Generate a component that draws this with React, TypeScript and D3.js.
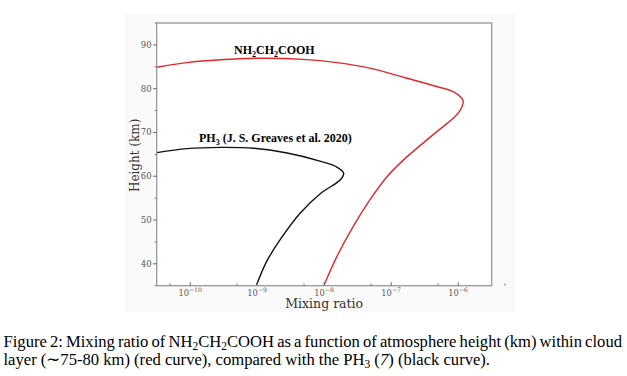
import React, { useLayoutEffect, useRef, useState } from "react";
import * as d3 from "d3";

// NH2CH2COOH (red curve): height (km) and mixing ratio
const glyHeight = [35.2, 41.7, 48.5, 54.6, 59.9, 63.74, 67.17, 70.59, 72.88, 74.7, 76.07, 77.05, 77.8, 79.3, 80.5, 82.6, 84.7, 85.96, 86.7, 86.95, 86.6, 85.96, 84.9];
const glyRatio = [1.0e-8, 1.55e-8, 2.7e-8, 4.8e-8, 8.65e-8, 1.53e-7, 2.78e-7, 5.17e-7, 7.94e-7, 1.03e-6, 1.15e-6, 1.19e-6, 1.13e-6, 8.45e-7, 4.78e-7, 1.52e-7, 4.8e-8, 1.55e-8, 4.9e-9, 1.1e-9, 2.8e-10, 8.9e-11, 3.2e-11];

// PH3 (black curve)
const ph3Height = [35.2, 40.5, 45.5, 51.6, 56.1, 59.2, 60.7, 62.1, 63.4, 65.3, 66.4, 66.6, 66.3, 65.4];
const ph3Ratio = [9.8e-10, 1.38e-9, 2.2e-9, 4.4e-9, 8.9e-9, 1.74e-8, 1.95e-8, 1.55e-8, 8.9e-9, 2.8e-9, 8.9e-10, 2.8e-10, 8.9e-11, 3.2e-11];

const xMajorExp = [-10, -9, -8, -7, -6];
const xMinor = [5e-11, 5e-10, 5e-9, 5e-8, 5e-7, 5e-6];
const yMajor = [40, 50, 60, 70, 80, 90];
const yMinor = [35, 45, 55, 65, 75, 85, 95];

const W = 627;
const H = 376;
const plot = { left: 156.7, right: 491.7, top: 23, bottom: 285.7 };
const captionRight = 622;
const captionLeft = 3.5;

export default function App() {
  const x = d3.scaleLog().domain([3.1623e-11, 3.1623e-6]).range([plot.left, plot.right]);
  const y = d3.scaleLinear().domain([35, 95]).range([plot.bottom, plot.top]);

  const line = d3
    .line<[number, number]>()
    .x((d) => x(d[0]))
    .y((d) => y(d[1]))
    .curve(d3.curveCatmullRom.alpha(0.5));

  const gly = glyRatio.map((r, i) => [r, glyHeight[i]] as [number, number]);
  const ph3 = ph3Ratio.map((r, i) => [r, ph3Height[i]] as [number, number]);

  const capRef = useRef<SVGTextElement>(null);
  const [wordSpacing, setWordSpacing] = useState<number | null>(null);
  useLayoutEffect(() => {
    const el = capRef.current;
    if (el && wordSpacing === null) {
      const len = el.getComputedTextLength();
      const extra = captionRight - captionLeft - len;
      setWordSpacing(extra / 14);
    }
  }, [wordSpacing]);

  const tickColor = "#666";
  const serif = "'DejaVu Serif', serif";
  const times = "'Liberation Serif', 'Times New Roman', serif";
  const capSize = 16.6;

  return (
    <svg width={W} height={H} style={{ position: "absolute", left: 0, top: 0, background: "#fff" }}>
      <rect x={125} y={14} width={390} height={298} fill="#fafafa" />
      <rect x={plot.left} y={plot.top} width={plot.right - plot.left} height={plot.bottom - plot.top} fill="#fff" />
      <defs>
        <clipPath id="clip">
          <rect x={plot.left} y={plot.top} width={plot.right - plot.left} height={plot.bottom - plot.top} />
        </clipPath>
      </defs>
      <g clipPath="url(#clip)">
        <path d={line(gly) || ""} fill="none" stroke="#e0282c" strokeWidth={1.4} />
        <path d={line(ph3) || ""} fill="none" stroke="#111" strokeWidth={1.4} />
      </g>
      <rect x={plot.left} y={plot.top} width={plot.right - plot.left} height={plot.bottom - plot.top} fill="none" stroke="#999" strokeWidth={1.3} />

      {/* x ticks (inward) */}
      {xMajorExp.map((e) => {
        const px = x(Math.pow(10, e));
        return (
          <g key={"xm" + e}>
            <line x1={px} x2={px} y1={plot.bottom} y2={plot.bottom - 3.5} stroke={tickColor} strokeWidth={1} />
            <text x={px} y={295.5} fontFamily={serif} fontSize={8.3} fill="#555" textAnchor="middle">
              10
              <tspan dy={-3.5} fontSize={6.2}>{"\u2212" + Math.abs(e)}</tspan>
            </text>
          </g>
        );
      })}
      {xMinor.map((v) => {
        const px = x(v);
        return <line key={"xn" + v} x1={px} x2={px} y1={plot.bottom} y2={plot.bottom - 2.2} stroke={tickColor} strokeWidth={0.9} />;
      })}

      {/* y ticks (outward) */}
      {yMajor.map((v) => (
        <g key={"ym" + v}>
          <line x1={plot.left} x2={plot.left - 3.5} y1={y(v)} y2={y(v)} stroke={tickColor} strokeWidth={1} />
          <text x={plot.left - 5} y={y(v) + 3} fontFamily={serif} fontSize={8.5} fill="#555" textAnchor="end">
            {v}
          </text>
        </g>
      ))}
      {yMinor.map((v) => (
        <line key={"yn" + v} x1={plot.left} x2={plot.left - 2} y1={y(v)} y2={y(v)} stroke={tickColor} strokeWidth={0.9} />
      ))}

      {/* axis labels */}
      <text x={(plot.left + plot.right) / 2} y={308} fontFamily={serif} fontSize={12.5} fill="#333" textAnchor="middle">
        Mixing ratio
      </text>
      <text
        transform={`translate(139, ${(plot.top + plot.bottom) / 2 + 1}) rotate(-90)`}
        fontFamily={serif}
        fontSize={12}
        fill="#333"
        textAnchor="middle"
      >
        Height (km)
      </text>

      {/* curve labels */}
      <text x={234} y={53.5} fontFamily={times} fontWeight="bold" fontSize={12} fill="#000">
        NH<tspan dy={3} fontSize={8}>2</tspan>
        <tspan dy={-3}>CH</tspan>
        <tspan dy={3} fontSize={8}>2</tspan>
        <tspan dy={-3}>COOH</tspan>
      </text>
      <text x={199} y={141.5} fontFamily={times} fontWeight="bold" fontSize={12} fill="#000">
        PH<tspan dy={3} fontSize={8}>3</tspan>
        <tspan dy={-3}> (J. S. Greaves et al. 2020)</tspan>
      </text>

      {/* caption */}
      <text ref={capRef} x={captionLeft} y={346.5} fontFamily={times} fontSize={capSize} fill="#000" wordSpacing={wordSpacing ?? 0}>
        Figure 2: Mixing ratio of NH<tspan dy={3} fontSize={11.5}>2</tspan>
        <tspan dy={-3}>CH</tspan>
        <tspan dy={3} fontSize={11.5}>2</tspan>
        <tspan dy={-3}>COOH as a function of atmosphere height (km) within cloud</tspan>
      </text>
      <text x={captionLeft} y={365} fontFamily={times} fontSize={capSize} fill="#000">
        layer (∼75-80 km) (red curve), compared with the PH<tspan dy={3} fontSize={11.5}>3</tspan>
        <tspan dy={-3}> (</tspan>
        <tspan fontStyle="italic">7</tspan>
        <tspan>) (black curve).</tspan>
      </text>
    </svg>
  );
}
